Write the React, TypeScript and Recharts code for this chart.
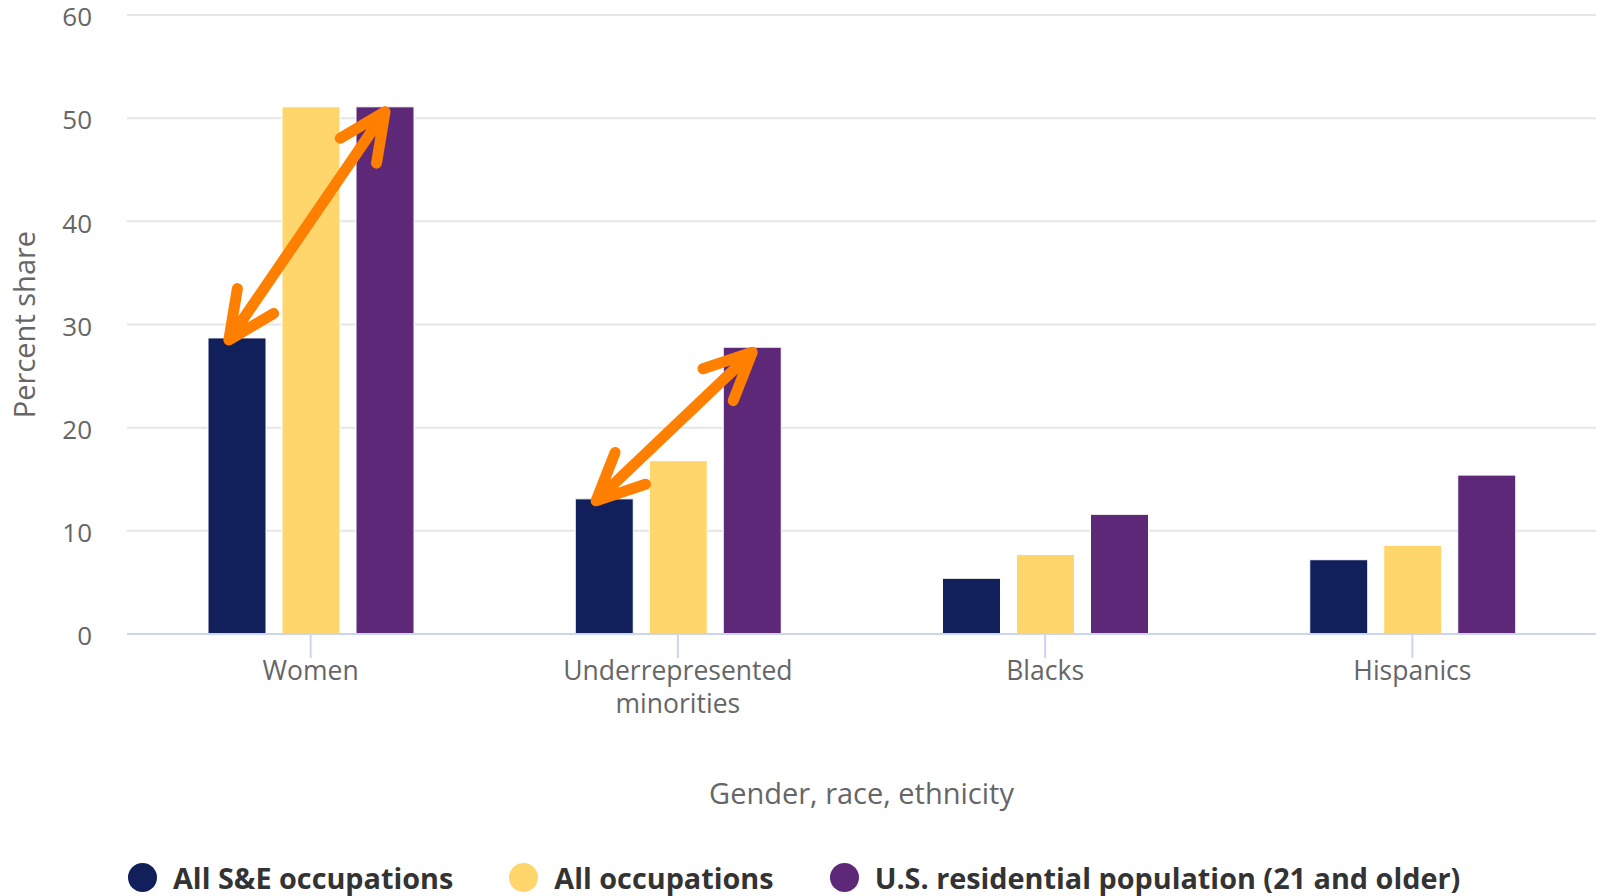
import { BarChart, Bar, XAxis, YAxis, CartesianGrid, Legend, LabelList } from "recharts";

const groups = ["Women", "Underrepresented minorities", "Blacks", "Hispanics"];
const seOccupations = [28.7, 13.1, 5.4, 7.2];
const allOccupations = [51.1, 16.8, 7.7, 8.6];
const residentPopulation = [51.1, 27.8, 11.6, 15.4];
const yTicks = [0, 10, 20, 30, 40, 50, 60];

const seriesKeys = ["se", "all", "pop"];
const seriesNames = [
  "All S&E occupations",
  "All occupations",
  "U.S. residential population (21 and older)",
];
const seriesColors = ["#111f5a", "#fed66c", "#5d2878"];

// groups where an arrow marks the gap between S&E jobs and the population
const arrowGroups = ["Women", "Underrepresented minorities"];

const data = groups.map((group, i) => ({
  group,
  se: seOccupations[i],
  all: allOccupations[i],
  pop: residentPopulation[i],
}));

const FONT = "'Open Sans', sans-serif";
const BAR_SIZE = 58;
const BAR_GAP = 16;
const ARROW_COLOR = "#ff7f00";

function arrowHead(tx: number, ty: number, fx: number, fy: number) {
  // arms point back toward (fx, fy)
  const len = Math.hypot(fx - tx, fy - ty);
  const ux = (fx - tx) / len;
  const uy = (fy - ty) / len;
  const arm = 52;
  const a = (25 * Math.PI) / 180;
  const r = (s: number) => [
    tx + arm * (ux * Math.cos(s) - uy * Math.sin(s)),
    ty + arm * (ux * Math.sin(s) + uy * Math.cos(s)),
  ];
  const [ax, ay] = r(a);
  const [bx, by] = r(-a);
  return `M${ax},${ay} L${tx},${ty} L${bx},${by}`;
}

// drawn from the population bar so it sits above all three bars
function GapArrow(props: any) {
  const { x, y, width, height, index } = props;
  if (!arrowGroups.includes(groups[index])) return null;
  const pxPerUnit = height / residentPopulation[index];
  const seTop = y + height - seOccupations[index] * pxPerUnit;
  const seX = x - 2 * (width + BAR_GAP);
  const x1 = seX + width * 0.36;
  const y1 = seTop + 2;
  const x2 = x + width * 0.5;
  const y2 = y + 5;
  const d = `M${x1},${y1} L${x2},${y2} ${arrowHead(x1, y1, x2, y2)} ${arrowHead(x2, y2, x1, y1)}`;
  return (
    <path
      d={d}
      fill="none"
      stroke={ARROW_COLOR}
      strokeWidth={11}
      strokeLinecap="round"
      strokeLinejoin="round"
    />
  );
}

// splits a long category name over two lines
function wrapLabel(label: string, maxChars = 16) {
  const lines: string[] = [];
  let line = "";
  for (const word of label.split(" ")) {
    if (line && (line + " " + word).length > maxChars) {
      lines.push(line);
      line = word;
    } else {
      line = line ? line + " " + word : word;
    }
  }
  if (line) lines.push(line);
  return lines;
}

function CategoryTick(props: any) {
  const { x, y, payload } = props;
  const lines = wrapLabel(String(payload.value));
  return (
    <text
      x={x}
      y={y}
      textAnchor="middle"
      fontSize={26.5}
      fontFamily={FONT}
      fill="#666666"
    >
      {lines.map((ln, i) => (
        <tspan key={i} x={x} dy={i === 0 ? 19 : 33}>
          {ln}
        </tspan>
      ))}
    </text>
  );
}

function YTitle(props: any) {
  const vb = props.viewBox;
  const cx = vb.x + 35;
  const cy = vb.y + vb.height / 2;
  return (
    <text
      x={cx}
      y={cy}
      textAnchor="middle"
      transform={`rotate(-90, ${cx}, ${cy})`}
      fontSize={29}
      fontFamily={FONT}
      fill="#666666"
    >
      Percent share
    </text>
  );
}

function LegendRow() {
  return (
    <div style={{ display: "flex", alignItems: "center", fontFamily: FONT }}>
      {seriesNames.map((name, i) => (
        <div
          key={name}
          style={{ display: "flex", alignItems: "center", marginRight: i < 2 ? 56 : 0 }}
        >
          <span
            style={{
              width: 29,
              height: 29,
              borderRadius: "50%",
              background: seriesColors[i],
              marginRight: 16,
              display: "inline-block",
            }}
          />
          <span style={{ fontSize: 28.8, fontWeight: 700, color: "#333333", whiteSpace: "nowrap" }}>
            {name}
          </span>
        </div>
      ))}
    </div>
  );
}

export default function App() {
  return (
    <div style={{ position: "absolute", left: 0, top: 0, background: "#fff" }}>
      <BarChart
        width={1598}
        height={896}
        data={data}
        margin={{ top: 15, right: 2, bottom: 82, left: 0 }}
        barSize={BAR_SIZE}
        barGap={BAR_GAP}
      >
        <CartesianGrid vertical={false} stroke="#e6e6e6" strokeWidth={2} />
        <XAxis
          dataKey="group"
          height={180}
          tick={<CategoryTick />}
          tickSize={24}
          tickMargin={3}
          interval={0}
          axisLine={{ stroke: "#ccd6eb", strokeWidth: 2 }}
          tickLine={{ stroke: "#ccd6eb", strokeWidth: 2 }}
          label={{
            value: "Gender, race, ethnicity",
            position: "insideBottom",
            offset: 10,
            fontSize: 29,
            fontFamily: FONT,
            fill: "#666666",
          }}
        />
        <YAxis
          width={127}
          domain={[0, 60]}
          ticks={yTicks}
          tickSize={0}
          tickMargin={35}
          axisLine={false}
          tickLine={false}
          tick={{ fontSize: 26, fontFamily: FONT, fill: "#666666", dy: 2 }}
          label={<YTitle />}
        />
        <Legend
          layout="horizontal"
          verticalAlign="middle"
          align="center"
          content={() => <LegendRow />}
          wrapperStyle={{ left: 128, top: 858, width: "auto", bottom: "auto" }}
        />
        {seriesKeys.map((key, i) => (
          <Bar
            key={key}
            dataKey={key}
            name={seriesNames[i]}
            fill={seriesColors[i]}
            stroke="#ffffff"
            strokeWidth={1}
            isAnimationActive={false}
          >
            {key === "pop" && <LabelList dataKey="group" content={<GapArrow />} />}
          </Bar>
        ))}
      </BarChart>
    </div>
  );
}
